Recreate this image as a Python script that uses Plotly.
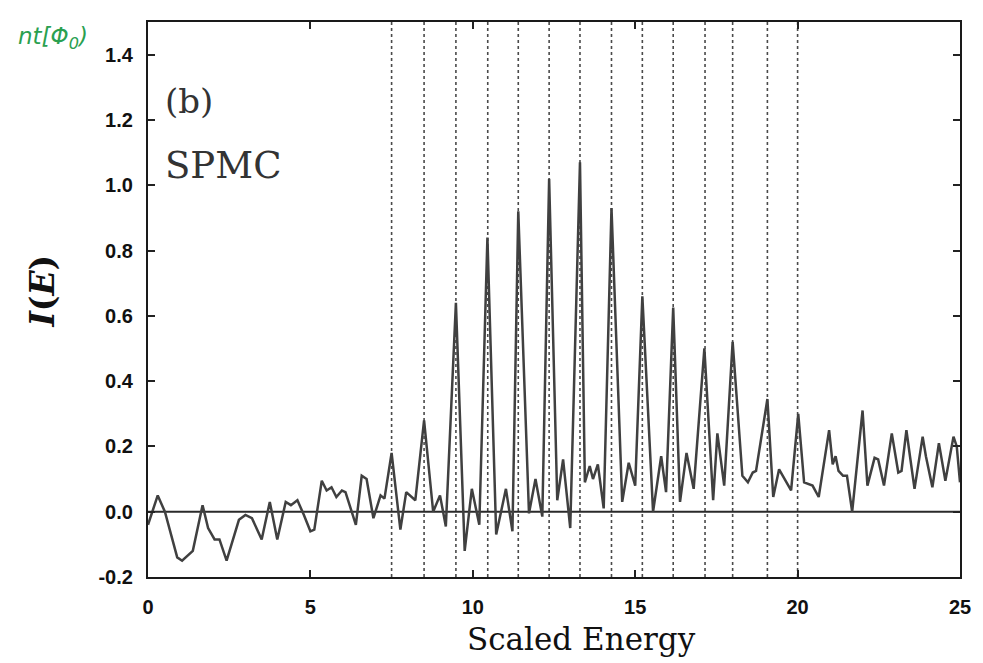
import plotly.graph_objects as go

# ---- data ----
energy = [0.00, 0.30, 0.52, 0.90, 1.05, 1.38, 1.68, 1.85, 2.05, 2.20, 2.42, 2.60, 2.80, 3.00, 3.20,
          3.50, 3.75, 3.98, 4.24, 4.40, 4.60, 4.80, 5.00, 5.12, 5.35, 5.50, 5.65, 5.80, 5.97, 6.08,
          6.40, 6.58, 6.73, 6.94, 7.16, 7.28, 7.50, 7.77, 7.95, 8.23, 8.50, 8.78, 8.99, 9.17, 9.48,
          9.75, 9.97, 10.20, 10.45, 10.72, 11.02, 11.22, 11.40, 11.73, 11.93, 12.14, 12.35, 12.60,
          12.78, 13.00, 13.30, 13.45, 13.60, 13.70, 13.85, 14.03, 14.27, 14.60, 14.80, 15.00, 15.22,
          15.55, 15.80, 15.95, 16.17, 16.38, 16.58, 16.80, 17.13, 17.40, 17.53, 17.74, 18.00, 18.30,
          18.47, 18.62, 18.72, 19.07, 19.25, 19.43, 19.80, 20.02, 20.20, 20.46, 20.65, 20.97, 21.08,
          21.17, 21.26, 21.40, 21.52, 21.68, 22.00, 22.15, 22.37, 22.48, 22.66, 22.90, 23.10, 23.20,
          23.35, 23.46, 23.60, 23.85, 23.95, 24.15, 24.35, 24.55, 24.80, 24.90, 25.00]
intensity = [-0.04, 0.05, 0.00, -0.14, -0.15, -0.12, 0.02, -0.05, -0.085, -0.085, -0.15, -0.09, -0.025, -0.01, -0.02,
             -0.085, 0.03, -0.085, 0.03, 0.02, 0.035, -0.01, -0.06, -0.055, 0.095, 0.065, 0.075, 0.045, 0.065, 0.06,
             -0.04, 0.11, 0.10, -0.02, 0.05, 0.04, 0.18, -0.055, 0.06, 0.035, 0.28, 0.00, 0.05, -0.045, 0.64,
             -0.12, 0.07, -0.04, 0.84, -0.07, 0.07, -0.06, 0.92, -0.005, 0.10, -0.015, 1.02, 0.035,
             0.16, -0.05, 1.07, 0.09, 0.14, 0.10, 0.145, 0.01, 0.93, 0.03, 0.15, 0.08, 0.66,
             0.00, 0.17, 0.06, 0.625, 0.03, 0.18, 0.07, 0.50, 0.035, 0.24, 0.08, 0.52, 0.11,
             0.09, 0.12, 0.125, 0.345, 0.045, 0.13, 0.065, 0.30, 0.09, 0.08, 0.045, 0.25, 0.145,
             0.17, 0.125, 0.11, 0.11, 0.00, 0.31, 0.08, 0.165, 0.16, 0.08, 0.24, 0.12, 0.125,
             0.25, 0.17, 0.07, 0.23, 0.17, 0.075, 0.21, 0.095, 0.23, 0.20, 0.09]
level_positions = [7.5, 8.5, 9.48, 10.46, 11.4, 12.35, 13.3, 14.27, 15.22, 16.17, 17.15, 18.0, 19.07, 20.0]
x_ticks = [0, 5, 10, 15, 20, 25]
y_ticks = [-0.2, 0.0, 0.2, 0.4, 0.6, 0.8, 1.0, 1.2, 1.4]
y_tick_labels = ["-0.2", "0.0", "0.2", "0.4", "0.6", "0.8", "1.0", "1.2", "1.4"]

fig = go.Figure()

# vertical dotted level lines
for xv in level_positions:
    fig.add_shape(type="line", x0=xv, x1=xv, y0=0, y1=1, xref="x", yref="paper",
                  line=dict(color="#4a4a4a", width=1.6, dash="dot"), layer="below")

# zero reference line
fig.add_shape(type="line", x0=0, x1=25, y0=0, y1=0, xref="x", yref="y",
              line=dict(color="#2a2a2a", width=2), layer="below")

fig.add_trace(go.Scatter(x=energy, y=intensity, mode="lines",
                         line=dict(color="#404040", width=2.5), showlegend=False))

axis_common = dict(showline=True, linecolor="#1a1a1a", linewidth=2.2, mirror="ticks",
                   ticks="inside", ticklen=7, tickwidth=1.5, tickcolor="#222222",
                   showgrid=False, zeroline=False,
                   tickfont=dict(family="Liberation Sans, Arial, sans-serif", size=20,
                                 color="#111111", weight="bold"))

fig.update_xaxes(range=[0, 25], tickvals=x_ticks, ticklabelstandoff=11, **axis_common)
fig.update_yaxes(range=[-0.2, 1.5], tickvals=y_ticks, ticktext=y_tick_labels, ticklabelstandoff=9,
                 **axis_common)

serif = "DejaVu Serif, Liberation Serif, serif"
fig.add_annotation(text="Scaled Energy", xref="paper", yref="paper", x=0.534, y=-0.112,
                   xanchor="center", yanchor="middle", showarrow=False,
                   font=dict(family=serif, size=31, color="#111111"))
fig.add_annotation(text="<b><i>I</i>(<i>E</i>)</b>", xref="paper", yref="paper", x=-0.13, y=0.515,
                   xanchor="center", yanchor="middle", textangle=-90, showarrow=False,
                   font=dict(family=serif, size=33, color="#111111"))
fig.add_annotation(text="(b)", xref="paper", yref="paper", x=0.018, y=0.857,
                   xanchor="left", yanchor="middle", showarrow=False,
                   font=dict(family=serif, size=34, color="#333333"))
fig.add_annotation(text="SPMC", xref="paper", yref="paper", x=0.018, y=0.742,
                   xanchor="left", yanchor="middle", showarrow=False,
                   font=dict(family=serif, size=37, color="#333333"))
fig.add_annotation(text="<i>nt[Φ<sub>0</sub>)</i>", xref="paper", yref="paper", x=-0.163, y=0.972,
                   xanchor="left", yanchor="middle", showarrow=False,
                   font=dict(family="DejaVu Sans, sans-serif", size=23, color="#2aa050"))

# page body has an 8px margin, so the figure is sized/offset to keep the plot area in place
fig.update_layout(width=975, height=655, margin=dict(l=140, r=15, t=13, b=86),
                  paper_bgcolor="white", plot_bgcolor="white", showlegend=False)

fig.write_html("out.html")
